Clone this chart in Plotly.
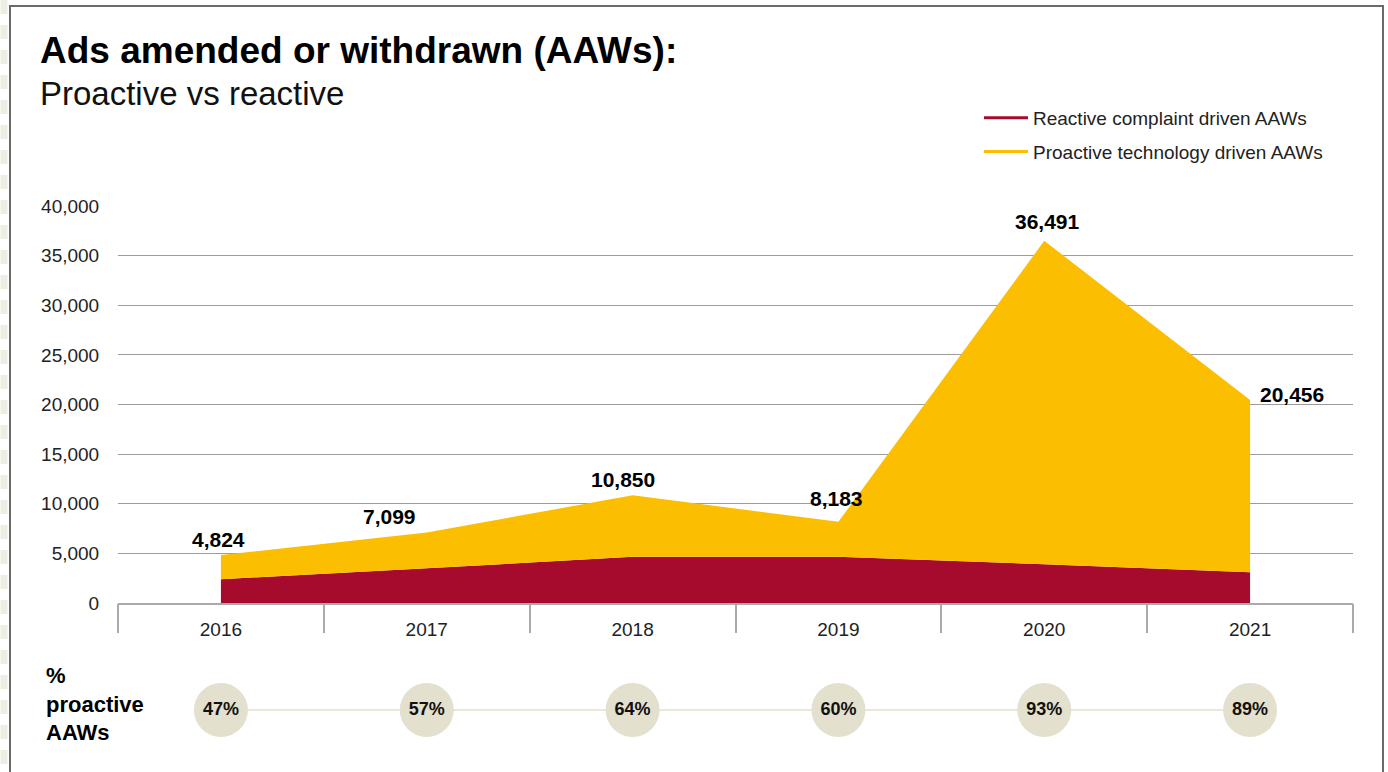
import plotly.graph_objects as go

# --- data ---------------------------------------------------------------
years = [2016, 2017, 2018, 2019, 2020, 2021]
total_aaws = [4824, 7099, 10850, 8183, 36491, 20456]
reactive_aaws = [2400, 3500, 4650, 4650, 3900, 3100]
proactive_aaws = [2424, 3599, 6200, 3533, 32591, 17356]
pct_proactive = [47, 57, 64, 60, 93, 89]
y_ticks = [0, 5000, 10000, 15000, 20000, 25000, 30000, 35000, 40000]

# --- styling ------------------------------------------------------------
RED = "#a60b2e"
YELLOW = "#fbbe00"
BEIGE = "#e3e0cd"
GRID = "#9c9c9c"
TEXT = "#1a1a1a"
FONT = "Liberation Sans, Arial, sans-serif"

W, H = 1388, 772
ML, MR, MT, MB = 118, 35, 206, 27
PLOT_W = W - ML - MR
PLOT_H = H - MT - MB


def px_x(p):
    return (p - ML) / PLOT_W


def px_y(p):
    return (H - MB - p) / PLOT_H


# label placement per year: (xshift, yshift, xanchor, yanchor)
label_pos = [
    (-2, 2, "center", "bottom"),
    (-37, 3, "center", "bottom"),
    (-10, 2, "center", "bottom"),
    (-2, 10, "center", "bottom"),
    (3, 6, "center", "bottom"),
    (8, 5, "left", "middle"),
]

fig = go.Figure()

# stacked areas
fig.add_trace(go.Scatter(
    x=years, y=reactive_aaws, stackgroup="aaw", mode="none",
    fillcolor=RED, name="Reactive complaint driven AAWs", showlegend=False,
    hoverinfo="x+y",
))
fig.add_trace(go.Scatter(
    x=years, y=proactive_aaws, stackgroup="aaw", mode="none",
    fillcolor=YELLOW, name="Proactive technology driven AAWs", showlegend=False,
    hoverinfo="x+y",
))

# legend entries drawn as short lines
fig.add_trace(go.Scatter(
    x=[None], y=[None], mode="lines", line=dict(color=RED, width=3),
    name="Reactive complaint driven AAWs", legendgroup="r",
))
fig.add_trace(go.Scatter(
    x=[None], y=[None], mode="lines", line=dict(color=YELLOW, width=3),
    name="Proactive technology driven AAWs", legendgroup="p",
))

# band dividers under the x axis
bounds = [y - 0.5 for y in years] + [years[-1] + 0.5]
fig.add_trace(go.Scatter(
    x=bounds, y=[None] * len(bounds), xaxis="x2", yaxis="y",
    mode="markers", showlegend=False, hoverinfo="skip",
))

# % proactive row
fig.add_trace(go.Scatter(
    x=years, y=[0] * len(years), yaxis="y2", mode="lines+markers+text",
    line=dict(color=BEIGE, width=1.5),
    marker=dict(size=54, color=BEIGE, line=dict(width=0)),
    text=[f"<b>{p}%</b>" for p in pct_proactive],
    textposition="middle center",
    textfont=dict(family=FONT, size=18, color="#111111"),
    showlegend=False, hoverinfo="skip",
))

# total value labels
annotations = []
for yr, tot, (xs, ys, xa, ya) in zip(years, total_aaws, label_pos):
    annotations.append(dict(
        x=yr, y=tot, xref="x", yref="y", text=f"<b>{tot:,}</b>",
        showarrow=False, xanchor=xa, yanchor=ya, xshift=xs, yshift=ys,
        font=dict(family=FONT, size=21, color="#000000"),
    ))

# title and subtitle
annotations.append(dict(
    x=px_x(38), y=px_y(50), xref="paper", yref="paper",
    text="<b>Ads amended or withdrawn (AAWs):</b>", showarrow=False,
    xanchor="left", yanchor="middle",
    font=dict(family=FONT, size=37, color="#000000"),
))
annotations.append(dict(
    x=px_x(38), y=px_y(94), xref="paper", yref="paper",
    text="Proactive vs reactive", showarrow=False,
    xanchor="left", yanchor="middle",
    font=dict(family=FONT, size=33, color="#111111"),
))

# row heading
annotations.append(dict(
    x=px_x(44), y=px_y(704), xref="paper", yref="paper",
    text="<b>%<br>proactive<br>AAWs</b>", showarrow=False,
    xanchor="left", yanchor="middle", align="left",
    font=dict(family=FONT, size=22, color="#000000"),
))

shapes = [
    # frame
    dict(type="rect", xref="paper", yref="paper",
         x0=px_x(10), x1=px_x(1383), y0=px_y(790), y1=px_y(6),
         line=dict(color="#6b6b6b", width=2), fillcolor="rgba(0,0,0,0)",
         layer="below"),
    # decorative strip on the left edge
    dict(type="line", xref="paper", yref="paper",
         x0=px_x(4), x1=px_x(4), y0=px_y(0), y1=px_y(772),
         line=dict(color="#efeee2", width=7, dash="14px,11px"),
         layer="below"),
]

fig.update_layout(
    width=W, height=H,
    margin=dict(l=ML, r=MR, t=MT, b=MB),
    paper_bgcolor="white", plot_bgcolor="white",
    font=dict(family=FONT, color=TEXT),
    showlegend=True,
    legend=dict(
        x=px_x(979), y=px_y(99), xanchor="left", yanchor="top",
        font=dict(family=FONT, size=19, color="#222222"),
        bgcolor="rgba(0,0,0,0)", traceorder="grouped", tracegroupgap=6,
        itemwidth=44,
    ),
    xaxis=dict(
        range=[years[0] - 0.5, years[-1] + 0.5], tickvals=years,
        ticktext=[str(y) for y in years],
        ticks="outside", ticklen=8, tickcolor="rgba(0,0,0,0)",
        showgrid=False, zeroline=False, showline=True,
        linecolor="#aaaaaa", linewidth=1.5,
        tickfont=dict(family=FONT, size=19, color="#222222"),
        anchor="y", fixedrange=True,
    ),
    xaxis2=dict(
        range=[years[0] - 0.5, years[-1] + 0.5], overlaying="x",
        anchor="y", side="bottom", tickvals=bounds,
        ticks="outside", ticklen=29, tickcolor="#aaaaaa", tickwidth=1.5,
        showticklabels=False, showgrid=False, zeroline=False,
        showline=False, fixedrange=True,
    ),
    yaxis=dict(
        domain=[px_y(603), 1], range=[0, 40000], tickvals=y_ticks,
        tickformat=",d", ticks="outside", ticklen=14,
        tickcolor="rgba(0,0,0,0)", showgrid=True, gridcolor=GRID,
        gridwidth=1, zeroline=False, showline=False,
        tickfont=dict(family=FONT, size=19, color="#222222"),
        fixedrange=True,
    ),
    yaxis2=dict(
        domain=[px_y(737), px_y(683)], range=[-1, 1], visible=False,
        fixedrange=True,
    ),
    annotations=annotations,
    shapes=shapes,
)

fig.write_html("out.html")
